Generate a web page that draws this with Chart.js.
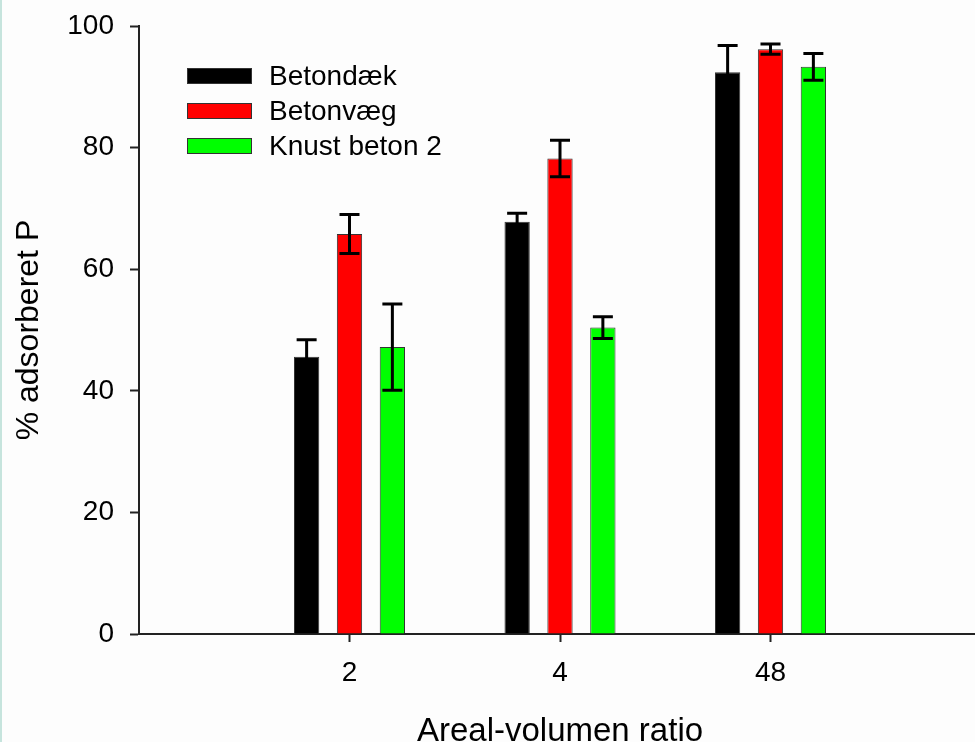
<!DOCTYPE html>
<html>
<head>
<meta charset="utf-8">
<script src="https://cdn.jsdelivr.net/npm/chart.js@4"></script>
<style>
  html, body { margin: 0; padding: 0; overflow: hidden; background: #fdfdfd; }
  #wrap { position: relative; width: 995px; height: 742px; border-left: 2px solid #c6e4dd; box-sizing: border-box; }
  canvas { display: block; }
</style>
</head>
<body>
<div id="wrap"><canvas id="c" width="993" height="742"></canvas></div>
<script>
// Area-to-volume ratios tested
const categories = ['2', '4', '48'];

// Mean % adsorbed P per material, with error (±) values
const betondaek = [45.6, 67.8, 92.4];
const betondaekErr = [2.8, 1.4, 4.4];
const betonvaeg = [65.8, 78.2, 96.2];
const betonvaegErr = [3.2, 3.0, 0.85];
const knustBeton2 = [47.2, 50.4, 93.3];
const knustBeton2Err = [7.1, 1.8, 2.2];

const seriesNames = ['Betondæk', 'Betonvæg', 'Knust beton 2'];
const seriesColors = ['#000000', '#ff0000', '#00ff00'];
const yTicks = [0, 20, 40, 60, 80, 100];

const FONT = '"Liberation Sans", Arial, Helvetica, sans-serif';

// empty slots on either side of the categories give the open space at both ends of the axis
const pad = arr => [null, ...arr, null];
const labels = ['', ...categories, ''];

const values = [betondaek, betonvaeg, knustBeton2];
const errors = [betondaekErr, betonvaegErr, knustBeton2Err];

const datasets = values.map((v, i) => ({
  label: seriesNames[i],
  data: pad(v),
  errors: pad(errors[i]),
  backgroundColor: seriesColors[i],
  borderColor: '#333333',
  borderWidth: 1,
  categoryPercentage: 0.611,
  barPercentage: 0.59
}));

// vertical error bars with caps
const errorBars = {
  id: 'errorBars',
  afterDatasetsDraw(chart) {
    const ctx = chart.ctx;
    const y = chart.scales.y;
    ctx.save();
    ctx.strokeStyle = '#000';
    ctx.lineWidth = 3;
    chart.data.datasets.forEach((ds, i) => {
      const meta = chart.getDatasetMeta(i);
      meta.data.forEach((el, j) => {
        const v = ds.data[j], e = ds.errors[j];
        if (v == null || e == null) return;
        const yt = y.getPixelForValue(v + e);
        const yb = y.getPixelForValue(v - e);
        const x = el.x;
        ctx.beginPath();
        ctx.moveTo(x, yt); ctx.lineTo(x, yb);
        ctx.moveTo(x - 10, yt); ctx.lineTo(x + 10, yt);
        ctx.moveTo(x - 10, yb); ctx.lineTo(x + 10, yb);
        ctx.stroke();
      });
    });
    ctx.restore();
  }
};

// legend block in the upper-left of the plot
const insetLegend = {
  id: 'insetLegend',
  afterDraw(chart) {
    const ctx = chart.ctx;
    const rows = [76, 111, 146];
    ctx.save();
    ctx.font = '28px ' + FONT;
    ctx.textBaseline = 'middle';
    ctx.textAlign = 'left';
    chart.data.datasets.forEach((ds, i) => {
      const cy = rows[i];
      ctx.fillStyle = ds.backgroundColor;
      ctx.fillRect(185, cy - 8, 65, 16);
      ctx.strokeStyle = '#333';
      ctx.lineWidth = 1;
      ctx.strokeRect(185.5, cy - 7.5, 64, 15);
      ctx.fillStyle = '#000';
      ctx.fillText(ds.label, 267, cy + 1);
    });
    ctx.restore();
  }
};

new Chart(document.getElementById('c'), {
  type: 'bar',
  data: { labels, datasets },
  plugins: [errorBars, insetLegend],
  options: {
    responsive: false,
    animation: false,
    layout: { padding: { top: 0, right: 0, bottom: 0, left: 0 } },
    plugins: { legend: { display: false }, tooltip: { enabled: false } },
    scales: {
      x: {
        offset: false,
        border: { display: true, color: '#222', width: 2 },
        grid: {
          display: true,
          offset: false,
          drawOnChartArea: false,
          drawTicks: true,
          tickLength: 8,
          tickWidth: 2,
          tickColor: c => (c.tick && c.tick.label === '') ? 'rgba(0,0,0,0)' : '#222'
        },
        ticks: { color: '#000', font: { family: FONT, size: 28 }, padding: 14, maxRotation: 0, autoSkip: false },
        title: {
          display: true,
          text: 'Areal-volumen ratio',
          color: '#000',
          font: { family: FONT, size: 33, lineHeight: 0.6 },
          padding: { top: 0, bottom: 0 }
        },
        afterFit(scale) { scale.height = 108; }
      },
      y: {
        min: 0,
        max: 100,
        afterBuildTicks(scale) { scale.ticks = yTicks.map(v => ({ value: v })); },
        border: { display: true, color: '#222', width: 2 },
        grid: {
          display: true,
          drawOnChartArea: false,
          drawTicks: true,
          tickLength: 9,
          tickWidth: 2,
          tickColor: '#222'
        },
        ticks: { color: '#000', font: { family: FONT, size: 28, lineHeight: 0.72 }, padding: 16 },
        title: {
          display: true,
          text: '% adsorberet P',
          color: '#000',
          font: { family: FONT, size: 32 },
          padding: { top: 8, bottom: 0 }
        },
        afterFit(scale) { scale.width = 137; }
      }
    }
  }
});
</script>
</body>
</html>
